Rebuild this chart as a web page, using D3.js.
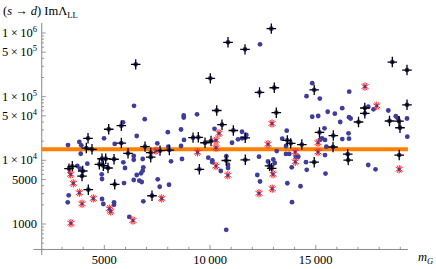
<!DOCTYPE html>
<html><head><meta charset="utf-8">
<script src="https://cdn.jsdelivr.net/npm/d3@7"></script>
<style>
html,body{margin:0;padding:0;background:#fff;}
text{font-family:"Liberation Serif","Times New Roman","DejaVu Serif",serif;}
</style></head>
<body><svg id="c" width="436" height="269"></svg>
<script>
// ---- data: [m_G, Im Lambda_LL] ----
const bluePoints = [
[12365,664000],[6405,71800],[6911,44300],[5885,39600],[8756,50600],[8756,47100],[9385,52800],
[8004,27700],[8628,30500],[10212,31300],[14834,163000],[14564,102000],[15193,93500],[16584,120000],
[15567,58000],[15903,54000],[16253,65900],[14834,48400],[15117,49700],[16574,47600],[16650,45400],
[16158,40000],[15415,31800],[13628,29200],[11513,28100],[16551,26600],[17733,63300],[17487,69600],
[18433,60600],[18788,49300],[18882,45900],[19318,45400],[16574,21900],[16257,21600],[15439,20900],
[15439,12100],[15463,6190],[17483,8450],[17828,7230],[19332,23500],[10510,6800],[10766,811],
[10851,8540],[10851,7580],[11040,18900],[11324,21400],[11513,22200],[11717,25000],[12317,11400],
[12237,5880],[12365,4650],[12743,9590],[12994,10300],[13060,9080],[13415,21900],[13594,16800],
[13594,12600],[13750,12600],[13155,14000],[13656,4370],[13878,2200],[14280,3920],[14058,11400],
[14176,11400],[14540,9350],[14574,7100],[15203,20900],[15297,22200],[15501,16400],[13864,7780],
[3283,17400],[3818,19400],[3912,17200],[4986,22200],[5492,18100],[3884,12700],[6391,11700],
[4196,8850],[3723,8150],[3851,7390],[5899,9310],[5979,7580],[6391,10200],[4877,6030],[4891,5090],
[5932,4400],[6391,4910],[3316,2820],[3269,2190],[4891,2470],[4953,2060],[5459,2190],[5459,2010],
[6183,1290],[6533,24100],[8770,20900],[7507,18500],[8027,16400],[8628,16800],[6816,10500],
[8155,9660],[8675,10500],[9919,11000],[10108,10000],[10108,9350],[10771,11600],[6845,7780],
[6816,6870],[6736,6250],[6533,5880],[6656,4790],[6769,4570],[7526,5040],[7620,3850],[8060,4140],
[6845,2270]
];
const crossPoints = [
[6485,322000],[10014,194000],[10851,714000],[11655,554000],[12899,1170000],[18622,350000],
[19318,262000],[10317,60600],[10567,36300],[5208,30800],[5804,35000],[12341,117000],[13041,138000],
[13136,56000],[14928,128000],[17322,66400],[17322,54800],[17024,40000],[18490,41500],[18939,41200],
[18986,32500],[19318,74500],[11102,29400],[11665,22600],[13656,20600],[13817,18500],[14342,17700],
[15179,27400],[15832,24500],[15818,16200],[16513,12500],[16537,10100],[18949,12100],[11669,10200],
[12814,8200],[12918,7500],[14928,9350],[10771,9940],[9494,7230],[7256,2780],[9196,22700],
[9446,23000],[9763,18900],[10047,20100],[6925,16400],[7195,13200],[7195,11200],[7635,14200],
[8075,14500],[4229,22200],[5804,18700],[4149,15600],[4418,14900],[6121,12900],[4891,10600],
[5066,10600],[5459,10400],[4764,8660],[4953,8240],[5175,7580],[3330,7390],[3486,8060],[3978,6800],
[3945,5670],[5492,4200],[4243,3460]
];
const starPoints = [
[3411,6030],[3534,4360],[3818,3100],[3945,2080],[4480,2520],[5237,1740],[5303,1580],[3420,1030],
[6353,1135],[7715,2520],[7445,14200],[9408,13400],[10283,8150],[10425,26600],[10283,20600],
[10283,15800],[10842,5840],[12932,37900],[12743,17900],[12317,3040],[12942,3590],[12980,6060],
[14030,13500],[14034,9520],[15108,18900],[15108,13500],[17331,144000],[17885,71800],[18949,7250]
];
const referenceLevel = 15000;
const xMajorTicks = [5000, 10000, 15000];
const xTickLabels = ["5000", "10\u2009000", "15\u2009000"];
const yMajorTicks = [1000, 5000, 1e4, 5e4, 1e5, 5e5, 1e6];
const yTickMant = ["1000", "5000", "1", "5", "1", "5", "1"];
const yTickExp  = [null, null, "4", "4", "5", "5", "6"];

const FONT = "Liberation Serif, Times New Roman, DejaVu Serif, serif";

// ---- scales ----
const svg = d3.select("#c");
const x = d3.scaleLinear().domain([1650, 19360]).range([33.5, 407.9]);
const y = d3.scaleLog().domain([326, 1.436e6]).range([255, 23]);
const axisX = x(2040), axisY = y(398);
const gray = "#8a8a8a";

// axes lines
svg.append("line").attr("x1", x.range()[0]).attr("x2", x.range()[1])
  .attr("y1", axisY).attr("y2", axisY).attr("stroke", gray).attr("stroke-width", 1);
svg.append("line").attr("x1", axisX).attr("x2", axisX)
  .attr("y1", y.range()[1]).attr("y2", y.range()[0]).attr("stroke", gray).attr("stroke-width", 1);

// x ticks
const xMinor = d3.range(3000, 19001, 1000);
svg.selectAll(".xt").data(xMinor).join("line")
  .attr("x1", d => x(d)).attr("x2", d => x(d))
  .attr("y1", axisY).attr("y2", d => axisY - (d % 5000 === 0 ? 4.5 : 2.7))
  .attr("stroke", gray).attr("stroke-width", 0.9);
svg.selectAll(".xl").data(xMajorTicks).join("text")
  .attr("font-family", FONT)
  .attr("x", d => x(d)).attr("y", 264).attr("text-anchor", "middle")
  .attr("font-size", 12.5).attr("fill", "#000")
  .text((d, i) => xTickLabels[i]);

// y ticks
const yMinor = [];
for (let e = 2; e <= 6; e++) for (let k = 1; k <= 9; k++) {
  const v = k * Math.pow(10, e);
  if (v > 330 && v < 1.43e6) yMinor.push(v);
}
svg.selectAll(".yt").data(yMinor).join("line")
  .attr("y1", d => y(d)).attr("y2", d => y(d))
  .attr("x1", axisX).attr("x2", d => axisX + (yMajorTicks.some(t => Math.abs(t - d) < 1) ? 4 : 2.2))
  .attr("stroke", gray).attr("stroke-width", 0.9);
const yl = svg.selectAll(".yl").data(yMajorTicks).join("text")
  .attr("font-family", FONT)
  .attr("x", 37).attr("y", d => y(d) + 4).attr("text-anchor", "end")
  .attr("font-size", 12.5).attr("fill", "#000");
yl.each(function(d, i) {
  const t = d3.select(this);
  if (yTickExp[i] === null) { t.text(yTickMant[i]); return; }
  t.append("tspan").text(yTickMant[i] + "\u2009\u00d7\u200910");
  t.append("tspan").attr("dy", -5).attr("font-size", 8.5).text(yTickExp[i]);
});

// reference line
svg.append("line").attr("x1", axisX).attr("x2", x.range()[1])
  .attr("y1", y(referenceLevel)).attr("y2", y(referenceLevel))
  .attr("stroke", "#ff8000").attr("stroke-width", 4);

// points
const blue = "#3d3d9c";
const dots = bluePoints.concat(crossPoints);
svg.append("g").selectAll("circle").data(dots).join("circle")
  .attr("cx", d => x(d[0])).attr("cy", d => y(d[1])).attr("r", 2.4).attr("fill", blue);

svg.append("g").selectAll("path").data(crossPoints).join("path")
  .attr("transform", d => `translate(${x(d[0])},${y(d[1])})`)
  .attr("d", "M-4.8,0H4.8M0,-5.2V5.2")
  .attr("stroke", "#000").attr("stroke-width", 1.3).attr("fill", "none");

svg.append("g").selectAll("path").data(starPoints).join("path")
  .attr("transform", d => `translate(${x(d[0])},${y(d[1])})`)
  .attr("d", "M0,-4.2V4.2M-3.6,-2.1L3.6,2.1M-3.6,2.1L3.6,-2.1M-2.1,-3.6L2.1,3.6M-2.1,3.6L2.1,-3.6")
  .attr("stroke", "#ff2a2a").attr("stroke-width", 1).attr("fill", "none");
svg.append("g").selectAll("circle").data(starPoints).join("circle")
  .attr("cx", d => x(d[0])).attr("cy", d => y(d[1])).attr("r", 1.5).attr("fill", blue);

// title
const title = svg.append("text").attr("font-family", FONT)
  .attr("x", 3).attr("y", 15).attr("font-size", 12.5).attr("fill", "#000");
title.append("tspan").text("(");
title.append("tspan").attr("font-style", "italic").text("s");
title.append("tspan").text(" \u2192 ");
title.append("tspan").attr("font-style", "italic").text("d");
title.append("tspan").text(") Im\u039b");
title.append("tspan").attr("dy", 3).attr("font-size", 8.5).text("LL");

// x label
const xl = svg.append("text").attr("font-family", FONT)
  .attr("x", 418).attr("y", 261).attr("font-size", 12.5).attr("fill", "#000");
xl.append("tspan").attr("font-style", "italic").text("m");
xl.append("tspan").attr("dy", 3).attr("font-size", 8.5).attr("font-style", "italic").text("G");
</script></body></html>
